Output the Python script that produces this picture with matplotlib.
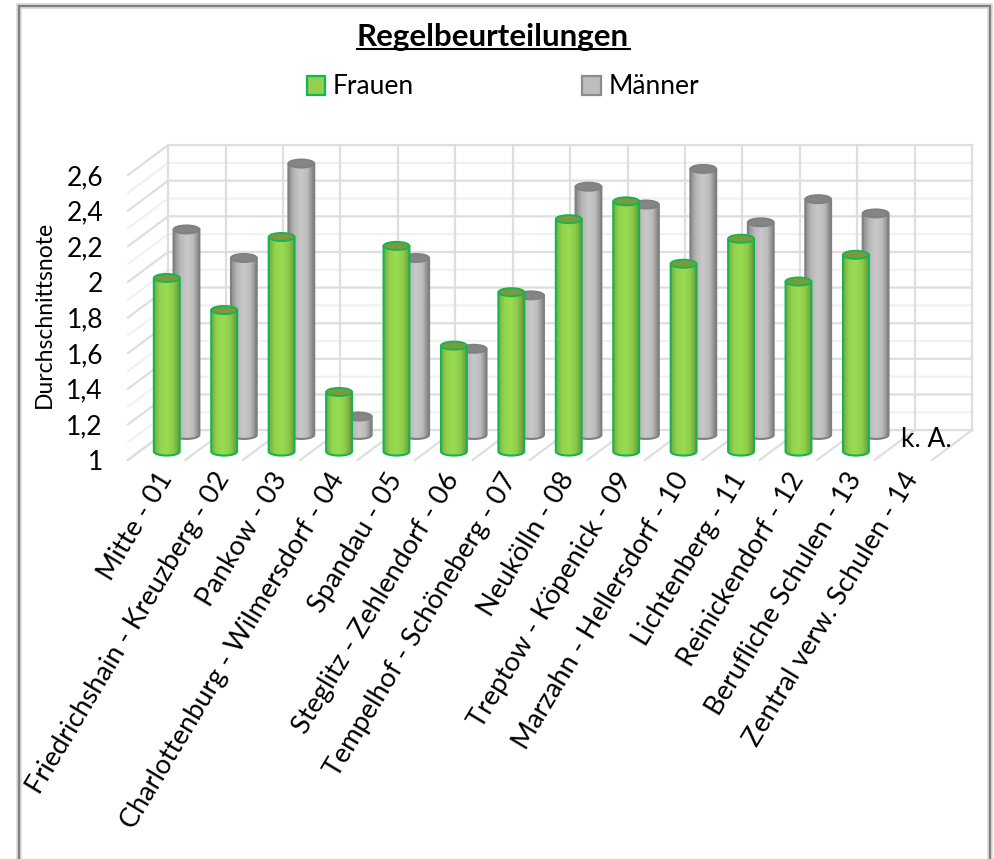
import numpy as np
import matplotlib
matplotlib.use('Agg')
import matplotlib.pyplot as plt
from matplotlib.colors import LinearSegmentedColormap
from matplotlib.lines import Line2D
from matplotlib.patches import Ellipse, Patch, Polygon, Rectangle
from matplotlib.path import Path
from matplotlib.transforms import ScaledTranslation

plt.rcParams['font.family'] = ['Lato', 'DejaVu Sans']

categories = ['Mitte - 01', 'Friedrichshain - Kreuzberg - 02', 'Pankow - 03',
              'Charlottenburg - Wilmersdorf - 04', 'Spandau - 05',
              'Steglitz - Zehlendorf - 06', 'Tempelhof - Schöneberg - 07',
              'Neukölln - 08', 'Treptow - Köpenick - 09', 'Marzahn - Hellersdorf - 10',
              'Lichtenberg - 11', 'Reinickendorf - 12', 'Berufliche Schulen - 13',
              'Zentral verw. Schulen - 14']
frauen = [1.98, 1.80, 2.21, 1.34, 2.16, 1.60, 1.90, 2.31, 2.41, 2.06, 2.20, 1.96, 2.11]
maenner = [2.17, 2.01, 2.54, 1.12, 2.01, 1.50, 1.80, 2.41, 2.31, 2.51, 2.21, 2.34, 2.26]
y_ticks = [1, 1.2, 1.4, 1.6, 1.8, 2, 2.2, 2.4, 2.6]
y_labels = ['1', '1,2', '1,4', '1,6', '1,8', '2', '2,2', '2,4', '2,6']
y_minor = [1.1, 1.3, 1.5, 1.7, 1.9, 2.1, 2.3, 2.5]

W, H = 994, 859
DX, DY = 0.70, 0.168  # oblique depth of the 3D box, in data units
BAR_W = 0.45
CAP_H = 0.046

green_cmap = LinearSegmentedColormap.from_list('g', ['#74ad3e', '#93d54e', '#98dc52', '#8ccb4a', '#68963a'])
grey_cmap = LinearSegmentedColormap.from_list('k', ['#8c8c8c', '#b8b8b8', '#c9c9c9', '#bcbcbc', '#7c7c7c'])

fig = plt.figure(figsize=(W / 100, H / 100), dpi=100)
ax = fig.add_axes([128 / W, 1 - 460 / H, 804 / W, 285 / H])
ax.patch.set_visible(False)


def wall_lines(values, color, lw):
    for v in values:
        ax.plot([-0.5, -0.5 + DX, 13.5 + DX], [v, v + DY, v + DY], color=color, lw=lw,
                clip_on=False, zorder=1, solid_joinstyle='miter')


def cylinder(i, value, depth, lift, cmap, edge, cap, z):
    xc = i + depth * DX
    y0 = 1 + depth * DY + lift
    y1 = value + depth * DY
    x0, x1 = xc - BAR_W / 2, xc + BAR_W / 2
    t = np.linspace(np.pi, 2 * np.pi, 40)
    xs = np.concatenate([xc + BAR_W / 2 * np.cos(t), [x1, x0]])
    ys = np.concatenate([y0 + CAP_H / 2 * np.sin(t), [y1, y1]])
    im = ax.imshow(np.linspace(0, 1, 256).reshape(1, -1), cmap=cmap, aspect='auto',
                   extent=[x0, x1, y0 - CAP_H, y1], zorder=z, interpolation='bilinear')
    ax.add_patch(Polygon(np.column_stack([xs, ys]), closed=True, fill=False, ec=edge, lw=1.5,
                         zorder=z + 0.1, clip_on=False, joinstyle='round'))
    im.set_clip_path(Path(np.column_stack([xs, ys])), transform=ax.transData)
    im.set_clip_box(fig.bbox)
    ax.add_patch(Ellipse((xc, y1), BAR_W, CAP_H, fc=cap, ec=edge, lw=1.3, zorder=z + 0.2, clip_on=False))


# back wall, side wall and floor
wall_lines(y_minor, '#f1f1f1', 1.6)
wall_lines(y_ticks, '#dedede', 1.6)
for k in range(15):
    ax.plot([k - 0.5 + DX] * 2, [1 + DY, 2.6 + DY], color='#dedede', lw=1.6, clip_on=False, zorder=1.1)
    ax.plot([k - 0.5, k - 0.5 + DX], [1, 1 + DY], color='#dedede', lw=1.6, clip_on=False, zorder=1.1)

for i, v in enumerate(maenner):
    cylinder(i, v, 0.74, 0.017, grey_cmap, '#808080', '#858585', 3)
for i, v in enumerate(frauen):
    cylinder(i, v, 0.25, 0.006, green_cmap, '#14b450', '#7a9a3e', 4)

ax.text(13.4, 1.115, 'k. A.', fontsize=19, ha='center', va='center', color='black', zorder=6)

ax.set_xlim(-0.5, 13.5)
ax.set_ylim(1, 2.6)
for s in ax.spines.values():
    s.set_visible(False)
ax.set_yticks(y_ticks)
ax.set_yticklabels(y_labels, fontsize=19)
ax.set_xticks(range(len(categories)))
ax.set_xticklabels(categories, fontsize=19.5, rotation=59, ha='right', rotation_mode='anchor')
ax.tick_params(axis='y', length=0, pad=18)
ax.tick_params(axis='x', length=0, pad=6)
shift = ScaledTranslation(-1 / 100, 0, fig.dpi_scale_trans)
for lab in ax.get_xticklabels():
    lab.set_transform(lab.get_transform() + shift)

fig.text(44 / W, 1 - 314 / H, 'Durchschnittsnote', rotation=90, fontsize=16.5, ha='center', va='center')
fig.text(493 / W, 1 - 37 / H, 'Regelbeurteilungen', fontsize=22.5, fontweight='bold', ha='center', va='center')
fig.add_artist(Line2D([357 / W, 630 / W], [1 - 49 / H] * 2, color='black', lw=1.5))

handles = [Patch(fc='#92d050', ec='#14b450', lw=1.6, label='Frauen'),
           Patch(fc='#bdbdbd', ec='#8c8c8c', lw=1.6, label='Männer')]
fig.legend(handles=handles, ncol=2, frameon=False, fontsize=19, loc='center',
           bbox_to_anchor=(503 / W, 1 - 87 / H), handlelength=0.7, handleheight=0.7,
           handletextpad=0.3, columnspacing=6.37)

# chart frame with its soft shadow
fig.add_artist(Rectangle((19 / W, -0.02), 971 / W, 1.02 - 6 / H, fill=False, ec='#d8d8d8', lw=4,
                         transform=fig.transFigure))
fig.add_artist(Rectangle((19 / W, -0.02), 971 / W, 1.02 - 6 / H, fill=False, ec='#808080', lw=1.6,
                         transform=fig.transFigure))

fig.savefig('out.png', dpi=100)
